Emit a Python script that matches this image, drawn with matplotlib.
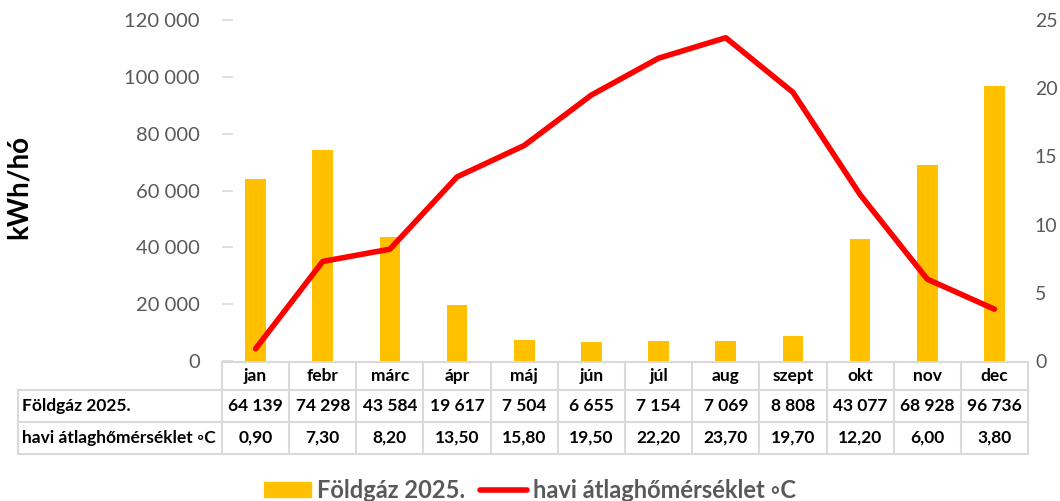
import matplotlib.pyplot as plt
import matplotlib.transforms as mtransforms
from matplotlib.lines import Line2D
from matplotlib.patches import Patch

months = ["jan", "febr", "márc", "ápr", "máj", "jún", "júl", "aug", "szept", "okt", "nov", "dec"]
gas_kwh = [64139, 74298, 43584, 19617, 7504, 6655, 7154, 7069, 8808, 43077, 68928, 96736]
temp_c = [0.90, 7.30, 8.20, 13.50, 15.80, 19.50, 22.20, 23.70, 19.70, 12.20, 6.00, 3.80]
gas_label = "Földgáz 2025."
temp_label = "havi átlaghőmérséklet ◦C"
left_ticks = [0, 20000, 40000, 60000, 80000, 100000, 120000]
right_ticks = [0, 5, 10, 15, 20, 25]

W, H = 1060, 501
BAR = "#FFC000"
RED = "#FF0000"
GRAY = "#595959"
GRID = "#D9D9D9"
FAM = ["Lato", "DejaVu Sans"]
plt.rcParams["font.family"] = FAM


def hu(v):
    return f"{v:,.0f}".replace(",", " ")


fig = plt.figure(figsize=(W / 100, H / 100), dpi=100)
ax = fig.add_axes([222 / W, 140 / H, (1028 - 222) / W, (361 - 20) / H])
x = list(range(len(months)))
ax.bar(x, gas_kwh, width=0.31, color=BAR, zorder=2)
ax.set_xlim(-0.5, len(months) - 0.5)
ax.set_ylim(0, 120000)
ax.set_yticks(left_ticks)
ax.set_yticklabels([hu(v) for v in left_ticks], color=GRAY, fontsize=14.5)
ax.tick_params(axis="y", direction="in", length=8, width=1.2, color=GRID, pad=16)
ax.set_xticks([])
for s in ["top", "right", "left", "bottom"]:
    ax.spines[s].set_visible(False)
ax.set_ylabel("kWh/hó", fontsize=20, fontweight="bold")
ax.yaxis.set_label_coords(-0.236, 0.51)

ax2 = ax.twinx()
ax2.plot(x, temp_c, color=RED, lw=4, solid_capstyle="round", zorder=3)
ax2.set_ylim(0, 25)
ax2.set_yticks(right_ticks)
ax2.set_yticklabels([str(v) for v in right_ticks], color=GRAY, fontsize=14)
ax2.tick_params(axis="y", length=0, pad=5)
for s in ["top", "right", "left", "bottom"]:
    ax2.spines[s].set_visible(False)

# data table below the plot
ov = fig.add_axes([0, 0, 1, 1], zorder=-1)
ov.set_xlim(0, W)
ov.set_ylim(H, 0)
ov.axis("off")
tr = mtransforms.blended_transform_factory(ax.transData, ov.transData)
rows = [362, 390, 422, 454]
lw = 1.5
x0 = 18
edges = [i - 0.5 for i in range(len(months) + 1)]
# horizontal lines
ov.plot([-0.5, len(months) - 0.5], [rows[0], rows[0]], color=GRID, lw=lw, transform=tr)
for yy in rows[1:]:
    ov.plot([x0, 1028], [yy, yy], color=GRID, lw=lw)
# vertical lines
for e in edges:
    ov.plot([e, e], [rows[0], rows[3]], color=GRID, lw=lw, transform=tr)
ov.plot([x0, x0], [rows[1], rows[3]], color=GRID, lw=lw)

fs = 12.5
for i, m in enumerate(months):
    yc = (rows[0] + rows[1]) / 2
    ov.text(i, yc, m, transform=tr, ha="center", va="center", fontsize=fs, fontweight="bold")
    ov.text(i, (rows[1] + rows[2]) / 2, hu(gas_kwh[i]), transform=tr, ha="center", va="center",
            fontsize=fs, fontweight="bold")
    ov.text(i, (rows[2] + rows[3]) / 2, f"{temp_c[i]:.2f}".replace(".", ","), transform=tr,
            ha="center", va="center", fontsize=fs, fontweight="bold")
ov.text(22, (rows[1] + rows[2]) / 2, gas_label, ha="left", va="center", fontsize=fs, fontweight="bold")
ov.text(22, (rows[2] + rows[3]) / 2, temp_label, ha="left", va="center", fontsize=fs, fontweight="bold")

handles = [Patch(color=BAR), Line2D([], [], color=RED, lw=4, solid_capstyle="round")]
leg = fig.legend(handles, [gas_label, temp_label], loc="center", bbox_to_anchor=(0.5, 11 / H),
                 ncol=2, frameon=False, prop={"size": 17, "weight": "bold"},
                 handlelength=2.0, handleheight=0.6, handletextpad=0.25, columnspacing=0.6)
for t in leg.get_texts():
    t.set_color(GRAY)

fig.savefig("out.png", dpi=100)
